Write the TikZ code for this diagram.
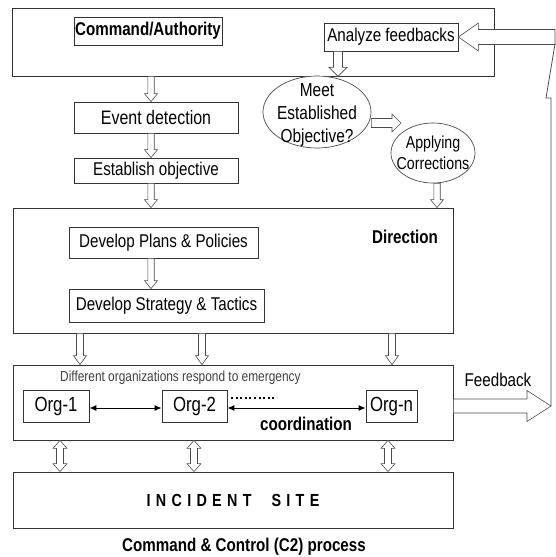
\documentclass[tikz,border=0pt]{standalone}
\usepackage{fontspec}
\setmainfont{Liberation Sans}[FakeStretch=0.82]
\usetikzlibrary{arrows.meta,calc,shapes.geometric}
\newcommand{\lsp}{\hspace{5.3pt}}
% vertical block arrow: start, tip, shaft half, head half, head length
\newcommand{\vblk}[5]{\draw[blk] let \p1=(#1), \p2=(#2) in
 (\x2-#3pt,\y1) -- (\x2-#3pt,\y2+#5pt) -- (\x2-#4pt,\y2+#5pt) -- (\x2,\y2) --
 (\x2+#4pt,\y2+#5pt) -- (\x2+#3pt,\y2+#5pt) -- (\x2+#3pt,\y1) -- cycle;}
% double vertical block arrow: top tip, bottom tip, shaft half, head half, head length
\newcommand{\dblk}[5]{\draw[blk] let \p1=(#1), \p2=(#2) in
 (\x1,\y1) -- (\x1+#4pt,\y1-#5pt) -- (\x1+#3pt,\y1-#5pt) -- (\x1+#3pt,\y2+#5pt) --
 (\x1+#4pt,\y2+#5pt) -- (\x1,\y2) -- (\x1-#4pt,\y2+#5pt) -- (\x1-#3pt,\y2+#5pt) --
 (\x1-#3pt,\y1-#5pt) -- (\x1-#4pt,\y1-#5pt) -- cycle;}
% left-pointing block arrow: start (right), tip (left)
\newcommand{\lblk}[5]{\draw[blk] let \p1=(#1), \p2=(#2) in
 (\x1,\y2+#3pt) -- (\x2+#5pt,\y2+#3pt) -- (\x2+#5pt,\y2+#4pt) -- (\x2,\y2) --
 (\x2+#5pt,\y2-#4pt) -- (\x2+#5pt,\y2-#3pt) -- (\x1,\y2-#3pt) -- cycle;}
% right-pointing block arrow: start (left), tip (right)
\newcommand{\rblk}[5]{\draw[blk] let \p1=(#1), \p2=(#2) in
 (\x1,\y2+#3pt) -- (\x2-#5pt,\y2+#3pt) -- (\x2-#5pt,\y2+#4pt) -- (\x2,\y2) --
 (\x2-#5pt,\y2-#4pt) -- (\x2-#5pt,\y2-#3pt) -- (\x1,\y2-#3pt) -- cycle;}
\tikzset{
 box/.style={draw=black!80, line width=0.8pt, fill=white, inner sep=0pt, rectangle},
 ell/.style={draw=black!70, line width=0.7pt, fill=white, ellipse, inner sep=0pt},
 blk/.style={draw=black!70, line width=0.6pt, fill=white},
 lbl/.style={font=\fontsize{18.5}{20}\selectfont},
 blbl/.style={font=\bfseries\fontsize{18.5}{20}\selectfont},
 orglbl/.style={font=\fontsize{20.5}{22}\selectfont},
 orgarrow/.style={line width=1pt, {Latex[length=7pt,width=6pt]}-{Latex[length=7pt,width=6pt]}},
 dotline/.style={line width=2pt, dash pattern=on 2pt off 2.6pt},
 freeline/.style={draw=black!70, line width=0.8pt}
}
\begin{document}
\begin{tikzpicture}[x=1pt,y=-1pt]
\useasboundingbox (0,0) rectangle (556,557);
\fill[white] (0,0) rectangle (556,557);

% top region
\node[box, minimum width=482pt, minimum height=68pt] (top) at (253,42) {};
\node[box, blbl, minimum width=148pt, minimum height=28pt] (cmd) at (148,31) {Command/Authority};
\node[box, lbl, minimum width=134pt, minimum height=28pt] (ana) at (391,37) {Analyze feedbacks};
\node[box, font=\fontsize{19.5}{21}\selectfont, minimum width=164pt, minimum height=31pt] (evt) at (156,117.5) {Event detection};
\node[box, lbl, minimum width=164pt, minimum height=25pt] (est) at (156,170.5) {Establish objective};
\node[ell, minimum width=108pt, minimum height=72pt] (meet) at (317,112) {};
\node[align=center, font=\fontsize{18.8}{23}\selectfont] (meettxt) at (317,115) {Meet\\Established\\Objective?};
\node[ell, minimum width=84pt, minimum height=60pt] (app) at (433,153) {};
\node[align=center, font=\fontsize{17.3}{21}\selectfont] (apptxt) at (433,153) {Applying\\Corrections};

% direction region
\node[box, minimum width=440pt, minimum height=125pt] (dir) at (233,270.5) {};
\node[box, lbl, minimum width=189pt, minimum height=31pt] (plans) at (163.5,242.5) {Develop Plans \& Policies};
\node[box, lbl, minimum width=195pt, minimum height=33pt] (strat) at (166.5,305.5) {Develop Strategy \& Tactics};
\node[blbl] (dirlbl) at (405,237) {Direction};

% organizations region
\node[box, minimum width=440pt, minimum height=75pt] (orgs) at (233,402.5) {};
\node[anchor=west, text=black!75, font=\fontsize{14.5}{16}\selectfont, inner sep=0pt] (difftxt) at (60,378) {Different organizations respond to emergency};
\node[box, orglbl, minimum width=66pt, minimum height=32pt] (org1) at (56,406) {Org-1};
\node[box, orglbl, minimum width=65pt, minimum height=32pt] (org2) at (194.5,406) {Org-2};
\node[box, orglbl, minimum width=51pt, minimum height=32pt] (orgn) at (391.5,406) {Org-n};
\node[blbl] (coord) at (306,424) {coordination};

% incident site
\node[box, font=\bfseries\fontsize{17.5}{20}\selectfont, minimum width=440pt, minimum height=56pt] (inc) at (233,500) {I\lsp N\lsp C\lsp I\lsp D\lsp E\lsp N\lsp T\hspace{20pt}S\lsp I\lsp T\lsp E};
\node[blbl] (title) at (244,547) {Command \& Control (C2) process};

% feedback label
\node[lbl] (fblbl) at (498,380) {Feedback};

% helper coordinates
\coordinate (c151) at (151,0);
\coordinate (c338) at (338,0);
\coordinate (c437) at (437,0);
\coordinate (c80) at (80,0);
\coordinate (c202) at (202,0);
\coordinate (c392) at (392,0);
\coordinate (c60) at (60,0);
\coordinate (c194) at (194,0);
\coordinate (c388) at (388,0);
\coordinate (bigR) at (555,36.5);
\coordinate (fbtip) at (551,406);
\coordinate (m2a) at (401,123);
\coordinate (ya) at (0,408);
\coordinate (d1) at (231,398);
\coordinate (d2) at (277,398);
\coordinate (r1) at (555,44);
\coordinate (r2) at (546,98);
\coordinate (r3) at (551,98);

% block arrows
\vblk{top.south -| c151}{evt.north -| c151}{3.2}{6.5}{8}
\vblk{evt.south -| c151}{est.north -| c151}{3.2}{6.5}{8}
\vblk{est.south -| c151}{dir.north -| c151}{3.2}{6.5}{8}
\vblk{plans.south -| c151}{strat.north -| c151}{3.2}{6.5}{8}
\vblk{ana.south -| c338}{top.south -| c338}{4.5}{9}{9}
\vblk{app.south -| c437}{dir.north -| c437}{3.2}{6.5}{8}
\vblk{dir.south -| c80}{orgs.north -| c80}{3.5}{6.5}{9}
\vblk{dir.south -| c202}{orgs.north -| c202}{3.5}{6.5}{9}
\vblk{dir.south -| c392}{orgs.north -| c392}{3.5}{6.5}{9}
\dblk{orgs.south -| c60}{inc.north -| c60}{3.5}{7}{8}
\dblk{orgs.south -| c194}{inc.north -| c194}{3.5}{7}{8}
\dblk{orgs.south -| c388}{inc.north -| c388}{3.5}{7}{8}
\rblk{meet.east |- m2a}{m2a}{4.5}{9}{9}
\lblk{bigR}{ana.east}{7.5}{14}{20}
\rblk{orgs.east |- fbtip}{fbtip}{7}{15.5}{24}

% feedback return line
\draw[freeline] (r1) -- (r2) -- (r3) -- (fbtip);

% coordination arrows
\draw[orgarrow] (org1.east |- ya) -- (org2.west |- ya);
\draw[orgarrow] (org2.east |- ya) -- (orgn.west |- ya);
\draw[dotline] (d1) -- (d2);
\end{tikzpicture}
\end{document}
